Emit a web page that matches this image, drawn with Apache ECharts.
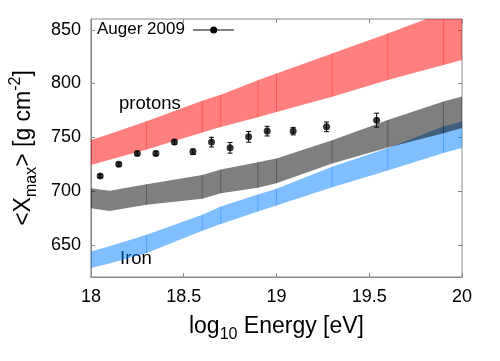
<!DOCTYPE html>
<html><head><meta charset="utf-8">
<script src="https://cdn.jsdelivr.net/npm/echarts@6/dist/echarts.min.js"></script>
<style>html,body{margin:0;padding:0;background:#fff}#c{width:500px;height:361px}</style>
</head><body><div id="c"></div>
<script>
// ---- data ----
const energyGrid = [18.0, 18.1, 18.3, 18.6, 18.7, 18.9, 19.0, 19.3, 19.6, 19.9, 20.0];
const protonLow  = [724.2, 729.0, 738.6, 754.4, 759.5, 768.5, 773.4, 787.7, 803.3, 817.2, 821.8];
const protonHigh = [747.4, 753.0, 765.0, 784.0, 789.5, 803.0, 809.3, 827.8, 846.6, 866.0, 872.0];
const mixedLow   = [684.0, 681.5, 687.1, 692.8, 698.0, 703.0, 707.2, 725.5, 740.5, 753.8, 758.5];
const mixedHigh  = [702.6, 700.3, 706.3, 715.0, 720.0, 726.8, 730.2, 747.1, 766.0, 783.2, 787.9];
const ironLow    = [628.4, 632.5, 642.3, 663.0, 669.2, 681.0, 686.4, 703.5, 719.0, 735.3, 740.0];
const ironHigh   = [643.8, 648.5, 659.3, 677.8, 685.5, 696.7, 702.0, 722.5, 740.0, 760.1, 764.7];
const segmentEdges = [18.3, 18.6, 18.7, 18.9, 19.0, 19.3, 19.6, 19.9];

const augerEnergy = [18.05, 18.15, 18.25, 18.35, 18.45, 18.55, 18.65, 18.75, 18.85, 18.95, 19.09, 19.27, 19.54];
const augerXmax   = [714.0, 724.8, 735.0, 735.0, 745.5, 736.5, 745.5, 740.2, 750.4, 755.7, 755.7, 759.7, 765.9];
const augerErr    = [1.5, 1.8, 2.0, 2.0, 2.2, 2.5, 4.5, 5.0, 5.0, 4.5, 3.5, 4.5, 6.5];

const xTicks = [18, 18.5, 19, 19.5, 20];
const yTicks = [650, 700, 750, 800, 850];
const legendLabel = 'Auger 2009';
const bandLabels = ['protons', 'Iron'];

// ---- chart ----
const FONT = 'Liberation Sans';
const chart = echarts.init(document.getElementById('c'), null, {renderer: 'canvas'});

function bandRows(lo, hi) {
  return energyGrid.map((e, i) => [e, lo[i], hi[i]]);
}
function bandSeries(name, lo, hi, fill, edge) {
  return {
    type: 'custom', name, clip: true, silent: true,
    data: bandRows(lo, hi),
    renderItem: function (params, api) {
      const n = params.dataInsideLength;
      const i = params.dataIndexInside;
      const children = [];
      if (i === 0) {
        const top = [], bot = [];
        for (let j = 0; j < n; j++) {
          const e = api.value(0, j);
          bot.push(api.coord([e, api.value(1, j)]));
          top.push(api.coord([e, api.value(2, j)]));
        }
        children.push({type: 'polygon', shape: {points: bot.concat(top.reverse())},
          style: {fill: fill, stroke: null}});
      }
      const e = api.value(0);
      if (segmentEdges.indexOf(e) >= 0) {
        const a = api.coord([e, api.value(1)]), b = api.coord([e, api.value(2)]);
        children.push({type: 'line', shape: {x1: a[0], y1: a[1], x2: b[0], y2: b[1]},
          style: {stroke: edge, lineWidth: 1}});
      }
      return {type: 'group', children};
    }
  };
}

const axisCol = '#888';
const option = {
  animation: false,
  backgroundColor: '#fff',
  textStyle: {fontFamily: FONT},
  grid: {left: 81, right: 38, top: 19, bottom: 84, show: true, borderColor: axisCol, borderWidth: 1, backgroundColor: 'transparent'},
  xAxis: [{
    type: 'value', min: 18, max: 20, interval: 0.5,
    axisLine: {show: true, lineStyle: {color: axisCol}},
    axisTick: {show: true, inside: true, length: 4, lineStyle: {color: axisCol}},
    splitLine: {show: false},
    axisLabel: {color: '#000', fontSize: 18, fontFamily: FONT, margin: 11, customValues: xTicks},
    name: '{m|log}{s|10}{m| Energy [eV]}',
    nameLocation: 'middle', nameGap: 34,
    nameTextStyle: {fontFamily: FONT, color: '#000',
      rich: {m: {fontSize: 23, fontFamily: FONT, lineHeight: 30},
             s: {fontSize: 16, fontFamily: FONT, lineHeight: 16, padding: [16, 0, 0, 0]}}}
  }, {
    type: 'value', min: 18, max: 20, interval: 0.5, position: 'top',
    axisLine: {show: false}, axisLabel: {show: false}, splitLine: {show: false},
    axisTick: {show: true, inside: true, length: 4, lineStyle: {color: axisCol}}
  }],
  yAxis: [{
    type: 'value', min: 620, max: 860,
    axisLine: {show: true, lineStyle: {color: axisCol}},
    axisTick: {show: true, inside: true, length: 4, lineStyle: {color: axisCol}, customValues: yTicks},
    splitLine: {show: false},
    axisLabel: {color: '#000', fontSize: 18, fontFamily: FONT, margin: 10, customValues: yTicks},
    name: '{m|<X}{s|max}{m|> [g cm}{p|-2}{m|]}',
    nameLocation: 'middle', nameGap: 46, nameRotate: 90,
    nameTextStyle: {fontFamily: FONT, color: '#000',
      rich: {m: {fontSize: 23, fontFamily: FONT, lineHeight: 30},
             s: {fontSize: 16, fontFamily: FONT, lineHeight: 16, padding: [16, 0, 0, 0]},
             p: {fontSize: 16, fontFamily: FONT, lineHeight: 16, padding: [0, 0, 16, 0]}}}
  }, {
    type: 'value', min: 620, max: 860, position: 'right',
    axisLine: {show: false}, axisLabel: {show: false}, splitLine: {show: false},
    axisTick: {show: true, inside: true, length: 4, lineStyle: {color: axisCol}, customValues: yTicks}
  }],
  series: [
    bandSeries('Iron', ironLow, ironHigh, 'rgba(0,128,255,0.5)', 'rgba(0,110,255,0.35)'),
    bandSeries('mixed', mixedLow, mixedHigh, 'rgba(0,0,0,0.5)', 'rgba(0,0,0,0.3)'),
    bandSeries('protons', protonLow, protonHigh, 'rgba(255,0,0,0.5)', 'rgba(255,0,0,0.3)'),
    {
      type: 'custom', name: 'errors', silent: true,
      data: augerEnergy.map((e, i) => [e, augerXmax[i], augerErr[i]]),
      renderItem: function (params, api) {
        const e = api.value(0), v = api.value(1), er = api.value(2);
        const lo = api.coord([e, v - er]), hi = api.coord([e, v + er]);
        const c = 2.5, st = {stroke: '#000', lineWidth: 1};
        return {type: 'group', children: [
          {type: 'line', shape: {x1: lo[0], y1: lo[1], x2: hi[0], y2: hi[1]}, style: st},
          {type: 'line', shape: {x1: lo[0] - c, y1: lo[1], x2: lo[0] + c, y2: lo[1]}, style: st},
          {type: 'line', shape: {x1: hi[0] - c, y1: hi[1], x2: hi[0] + c, y2: hi[1]}, style: st}
        ]};
      }
    },
    {
      type: 'scatter', name: legendLabel, symbol: 'circle', symbolSize: 7,
      itemStyle: {color: '#000'}, silent: true,
      data: augerEnergy.map((e, i) => [e, augerXmax[i]])
    }
  ],
  graphic: [
    {type: 'text', left: 97, top: 21, style: {text: legendLabel, fontSize: 17, fontFamily: FONT, fill: '#000'}},
    {type: 'line', shape: {x1: 193, y1: 30, x2: 234, y2: 30}, style: {stroke: '#000', lineWidth: 1}},
    {type: 'circle', shape: {cx: 213.7, cy: 30, r: 3.5}, style: {fill: '#000'}},
    {type: 'text', left: 119, top: 94, style: {text: bandLabels[0], fontSize: 18.5, fontFamily: FONT, fill: '#000'}},
    {type: 'text', left: 120, top: 249, style: {text: bandLabels[1], fontSize: 18.5, fontFamily: FONT, fill: '#000'}}
  ]
};
chart.setOption(option);
</script></body></html>
